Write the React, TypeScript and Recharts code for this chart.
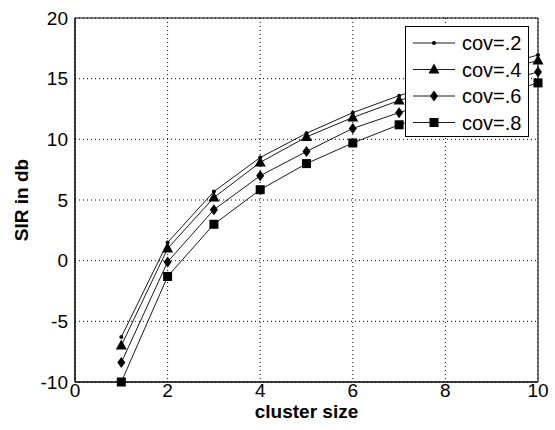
import { CartesianGrid, Legend, Line, LineChart, ReferenceArea, XAxis, YAxis } from "recharts";

const clusterSize = [1, 2, 3, 4, 5, 6, 7, 8, 9, 10];
const cov2 = [-6.3, 1.5, 5.7, 8.5, 10.5, 12.2, 13.6, 14.8, 15.9, 16.95];
const cov4 = [-7.0, 1.0, 5.2, 8.1, 10.2, 11.8, 13.2, 14.4, 15.5, 16.5];
const cov6 = [-8.4, -0.1, 4.2, 7.0, 9.0, 10.9, 12.2, 13.4, 14.5, 15.55];
const cov8 = [-10.0, -1.3, 3.0, 5.85, 8.0, 9.7, 11.2, 12.4, 13.5, 14.65];
const xTicks = [0, 2, 4, 6, 8, 10];
const yTicks = [-10, -5, 0, 5, 10, 15, 20];

const data = clusterSize.map((x, i) => ({ x, c2: cov2[i], c4: cov4[i], c6: cov6[i], c8: cov8[i] }));

const FONT = "'Liberation Sans', Arial, sans-serif";
const LINE = "#1a1a1a";

type Shape = "point" | "triangle" | "diamond" | "square";

function Marker({ cx, cy, shape }: { cx: number; cy: number; shape: Shape }) {
  if (cx == null || cy == null) return null;
  if (shape === "point") return <circle cx={cx} cy={cy} r={2} fill="#000" />;
  if (shape === "triangle")
    return <polygon points={`${cx},${cy - 6} ${cx - 5.5},${cy + 4} ${cx + 5.5},${cy + 4}`} fill="#000" />;
  if (shape === "diamond")
    return <polygon points={`${cx},${cy - 5.5} ${cx + 4},${cy} ${cx},${cy + 5.5} ${cx - 4},${cy}`} fill="#000" />;
  return <rect x={cx - 4.5} y={cy - 4.5} width={9} height={9} fill="#000" />;
}

const SERIES: { key: string; name: string; shape: Shape }[] = [
  { key: "c2", name: "cov=.2", shape: "point" },
  { key: "c4", name: "cov=.4", shape: "triangle" },
  { key: "c6", name: "cov=.6", shape: "diamond" },
  { key: "c8", name: "cov=.8", shape: "square" },
];

function LegendBox() {
  return (
    <svg width={124} height={111} style={{ display: "block" }}>
      <rect x={0.5} y={0.5} width={123} height={110} fill="#fff" stroke="#000" />
      {SERIES.map((s, i) => {
        const y = 17 + i * 26.5;
        return (
          <g key={s.key}>
            <line x1={8} x2={50} y1={y} y2={y} stroke={LINE} />
            <Marker cx={29} cy={y} shape={s.shape} />
            <text x={57} y={y + 7} fontFamily={FONT} fontSize={20} fill="#000">
              {s.name}
            </text>
          </g>
        );
      })}
    </svg>
  );
}

export default function App() {
  const tick = { fill: "#000", fontSize: 19, fontFamily: FONT };
  return (
    <div style={{ position: "absolute", left: 0, top: 0, background: "#fff" }}>
      <LineChart width={555} height={430} data={data} margin={{ top: 18, right: 17, left: 15, bottom: 18 }}>
        <CartesianGrid stroke="#000" strokeDasharray="1 3" />
        <XAxis
          dataKey="x"
          type="number"
          domain={[0, 10]}
          ticks={xTicks}
          tick={tick}
          tickLine={false}
          tickSize={0}
          tickMargin={2}
          height={30}
          axisLine={{ stroke: "#000" }}
          label={{
            content: ({ viewBox }: any) => (
              <text
                x={viewBox.x + viewBox.width / 2}
                y={418}
                textAnchor="middle"
                fontFamily={FONT}
                fontWeight="bold"
                fontSize={19}
                fill="#000"
              >
                cluster size
              </text>
            ),
          }}
        />
        <YAxis
          type="number"
          domain={[-10, 20]}
          ticks={yTicks}
          tick={tick}
          tickLine={false}
          tickSize={0}
          tickMargin={7}
          width={60}
          axisLine={{ stroke: "#000" }}
          label={{
            content: ({ viewBox }: any) => {
              const cx = 28;
              const cy = viewBox.y + viewBox.height / 2;
              return (
                <text
                  x={cx}
                  y={cy}
                  transform={`rotate(-90 ${cx} ${cy})`}
                  textAnchor="middle"
                  fontFamily={FONT}
                  fontWeight="bold"
                  fontSize={19}
                  fill="#000"
                >
                  SIR in db
                </text>
              );
            },
          }}
        />
        <ReferenceArea x1={0} x2={10} y1={-10} y2={20} fill="none" stroke="#000" strokeOpacity={1} />
        {SERIES.map((s) => (
          <Line
            key={s.key}
            dataKey={s.key}
            name={s.name}
            stroke={LINE}
            strokeWidth={1}
            isAnimationActive={false}
            dot={(p: any) => <Marker key={`${s.key}-${p.index}`} cx={p.cx} cy={p.cy} shape={s.shape} />}
            activeDot={false}
          />
        ))}
        <Legend
          layout="horizontal"
          verticalAlign="middle"
          align="center"
          wrapperStyle={{ top: 26, left: 405, width: 124, height: 111 }}
          content={() => <LegendBox />}
        />
      </LineChart>
    </div>
  );
}
